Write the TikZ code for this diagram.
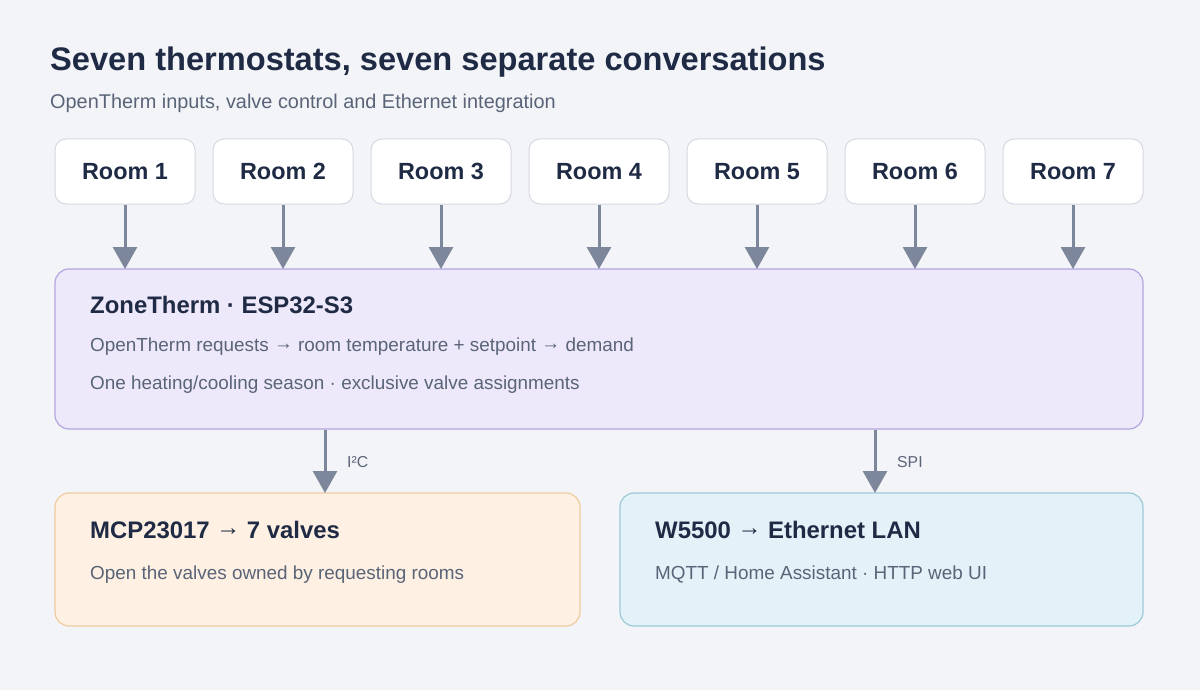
\documentclass[tikz,border=0pt]{standalone}
\usepackage{fontspec}
\setmainfont{Liberation Sans}
\usetikzlibrary{arrows.meta}
\definecolor{bg}{HTML}{F3F4F8}
\definecolor{ink}{HTML}{1F2A44}
\definecolor{muted}{HTML}{5A6478}
\definecolor{arr}{HTML}{7D879C}
\definecolor{roomstroke}{HTML}{D5D8E2}
\definecolor{mainfill}{HTML}{EEE9FA}
\definecolor{mainstroke}{HTML}{B3A5DF}
\definecolor{orfill}{HTML}{FEF0E2}
\definecolor{orstroke}{HTML}{EFCBA0}
\definecolor{blfill}{HTML}{E3F2F8}
\definecolor{blstroke}{HTML}{9CCAD8}
\newcommand\myrarr{\raisebox{0.1em}{→}}
\tikzset{
  roombox/.style={draw=roomstroke, fill=white, line width=1pt, rounded corners=11pt,
    minimum width=140pt, minimum height=65pt, inner sep=0pt,
    font=\fontsize{23.4}{27}\selectfont\bfseries, text=ink},
  panel/.style={line width=1.2pt, rounded corners=14pt},
  flow/.style={draw=arr, line width=3pt, -{Triangle[length=22pt,width=24pt]}},
  ptitle/.style={anchor=base west, font=\fontsize{23.9}{28}\selectfont\bfseries, text=ink, inner sep=0pt},
  ptext/.style={anchor=base west, font=\fontsize{18.9}{22}\selectfont, text=muted, inner sep=0pt},
  elabel/.style={anchor=west, font=\fontsize{15.8}{18}\selectfont, text=muted, inner sep=0pt}
}
\begin{document}
\begin{tikzpicture}[x=1pt,y=-1pt]
\fill[bg] (0,0) rectangle (1200,690);
\useasboundingbox (0,0) rectangle (1200,690);
\node[anchor=base west, inner sep=0pt, font=\fontsize{32.6}{36}\selectfont\bfseries, text=ink] (title) at (50,71) {Seven thermostats, seven separate conversations};
\node[anchor=base west, inner sep=0pt, font=\fontsize{19.9}{23}\selectfont, text=muted] (sub) at (50,108.5) {OpenTherm inputs, valve control and Ethernet integration};
% main panel
\draw[panel, draw=mainstroke, fill=mainfill] (55,269) rectangle (1143,429);
\node[ptitle] (mt) at (90,313.5) {ZoneTherm · ESP32-S3};
\node[ptext] (m1) at (90,351) {OpenTherm requests \myrarr{} room temperature + setpoint \myrarr{} demand};
\node[ptext] (m2) at (90,389) {One heating/cooling season · exclusive valve assignments};
% rooms
\foreach \i/\x in {1/125,2/283,3/441,4/599,5/757,6/915,7/1073}{
  \node[roombox] (r\i) at (\x,171.5) {Room \i};
  \coordinate (t\i) at (\x,269);
  \draw[flow] (r\i.south) -- (t\i);
}
% bottom panels
\draw[panel, draw=orstroke, fill=orfill] (55,493) rectangle (580,626);
\node[ptitle] (vt) at (90,538) {MCP23017 \myrarr{} 7 valves};
\node[ptext] (v1) at (90,579) {Open the valves owned by requesting rooms};
\draw[panel, draw=blstroke, fill=blfill] (620,493) rectangle (1143,626);
\node[ptitle] (et) at (655,538) {W5500 \myrarr{} Ethernet LAN};
\node[ptext] (e1) at (655,579) {MQTT / Home Assistant · HTTP web UI};
% connectors
\coordinate (a1) at (325,430); \coordinate (a2) at (325,493);
\coordinate (b1) at (875,430); \coordinate (b2) at (875,493);
\draw[flow] (a1) -- (a2);
\draw[flow] (b1) -- (b2);
\node[elabel] (l1) at (347,462) {I²C};
\node[elabel] (l2) at (897,462) {SPI};
\end{tikzpicture}
\end{document}
